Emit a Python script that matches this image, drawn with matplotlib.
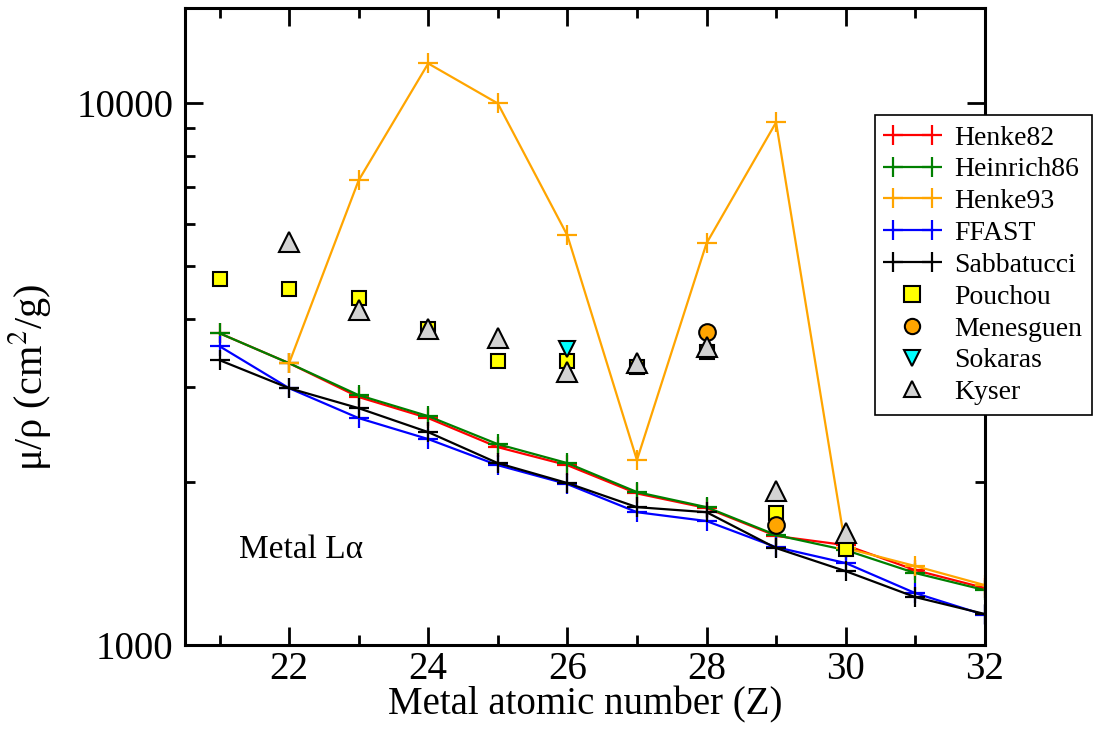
import matplotlib.pyplot as plt
from matplotlib.ticker import FixedLocator, NullFormatter
from matplotlib.legend_handler import HandlerLine2D

plt.rcParams['font.family'] = ['Liberation Serif', 'DejaVu Serif']
plt.rcParams['mathtext.fontset'] = 'stix'

# atomic numbers
z_all = [21, 22, 23, 24, 25, 26, 27, 28, 29, 30, 31, 32]
z_h93 = [22, 23, 24, 25, 26, 27, 28, 29, 30, 31, 32]

# mass attenuation coefficients (cm2/g)
henke82 = [3764, 3314, 2870, 2624, 2319, 2148, 1905, 1790, 1590, 1529, 1375, 1274]
heinrich86 = [3764, 3314, 2893, 2646, 2349, 2167, 1916, 1797, 1596, 1497, 1358, 1263]
henke93 = [3314, 7210, 11850, 10000, 5706, 2195, 5517, 9225, 1510, 1399, 1290]
ffast = [3562, 2980, 2624, 2400, 2148, 1982, 1759, 1694, 1516, 1417, 1247, 1136]
sabbatucci = [3357, 2980, 2737, 2472, 2167, 1991, 1797, 1759, 1510, 1369, 1226, 1141]

z_pouchou = [21, 22, 23, 24, 25, 26, 27, 28, 29, 30]
pouchou = [4735, 4536, 4368, 3830, 3342, 3342, 3258, 3474, 1752, 1504]
z_menesguen = [28, 29]
menesguen = [3780, 1665]
z_sokaras = [26]
sokaras = [3517]
z_kyser = [22, 23, 24, 25, 26, 27, 28, 29, 30]
kyser = [5540, 4150, 3830, 3685, 3190, 3314, 3548, 1923, 1609]

fig = plt.figure(figsize=(10.93, 7.3), dpi=100)
ax = fig.add_axes([0.169, 0.1164, 0.732, 0.8726])

line_kw = dict(marker='+', markersize=15, markeredgewidth=1.6, linewidth=1.6)
ax.plot(z_all, henke82, color='red', label='Henke82', **line_kw)
ax.plot(z_all, heinrich86, color='green', label='Heinrich86', **line_kw)
ax.plot(z_h93, henke93, color='orange', label='Henke93', **line_kw)
ax.plot(z_all, ffast, color='blue', label='FFAST', **line_kw)
ax.plot(z_all, sabbatucci, color='black', label='Sabbatucci', **line_kw)

pt_kw = dict(linestyle='none', markeredgecolor='black', markeredgewidth=1.5)
p1, = ax.plot(z_pouchou, pouchou, marker='s', markersize=10, color='yellow', label='Pouchou', **pt_kw)
p2, = ax.plot(z_menesguen, menesguen, marker='o', markersize=12, color='orange', label='Menesguen', **pt_kw)
p3, = ax.plot(z_sokaras, sokaras, marker='v', markersize=12, color='cyan', label='Sokaras', **pt_kw)
p4, = ax.plot(z_kyser, kyser, marker='^', markersize=15, color='lightgray', label='Kyser', **pt_kw)

ax.set_yscale('log')
ax.set_xlim(20.5, 32)
ax.set_ylim(1000, 15000)
ax.set_xticks([22, 24, 26, 28, 30, 32])
ax.set_xticks([21, 23, 25, 27, 29, 31], minor=True)
ax.yaxis.set_major_locator(FixedLocator([1000, 10000]))
ax.yaxis.set_minor_locator(FixedLocator([2000, 3000, 4000, 5000, 6000, 7000, 8000, 9000]))
ax.yaxis.set_minor_formatter(NullFormatter())
ax.set_yticklabels(['1000', '10000'])

ax.tick_params(which='both', direction='in', top=True, right=True, labelsize=28, width=2)
ax.tick_params(which='major', length=13)
ax.tick_params(axis='x', which='major', pad=4)
ax.tick_params(axis='y', which='major', pad=8)
ax.tick_params(which='minor', length=7)
for s in ax.spines.values():
    s.set_linewidth(2.2)

ax.set_xlabel('Metal atomic number (Z)', fontsize=28, labelpad=-1)
ax.set_ylabel('μ/ρ (cm$^2$/g)', fontsize=29)
ax.yaxis.set_label_coords(-0.165, 0.42)

ax.text(21.28, 1500, 'Metal Lα', fontsize=24, va='center')

one = HandlerLine2D(numpoints=1)
leg = ax.legend(loc='upper left', bbox_to_anchor=(0.8005, 0.842), bbox_transform=fig.transFigure,
                fontsize=20, numpoints=2, handlelength=2.0, handletextpad=0.5, fancybox=False,
                framealpha=1, edgecolor='black', borderaxespad=0, labelspacing=0.23,
                borderpad=0.35, handler_map={p1: one, p2: one, p3: one, p4: one})
leg.get_frame().set_linewidth(1.2)
for h in leg.legend_handles[5:]:
    h.set_markersize(11)

fig.savefig('out.png', dpi=100)
